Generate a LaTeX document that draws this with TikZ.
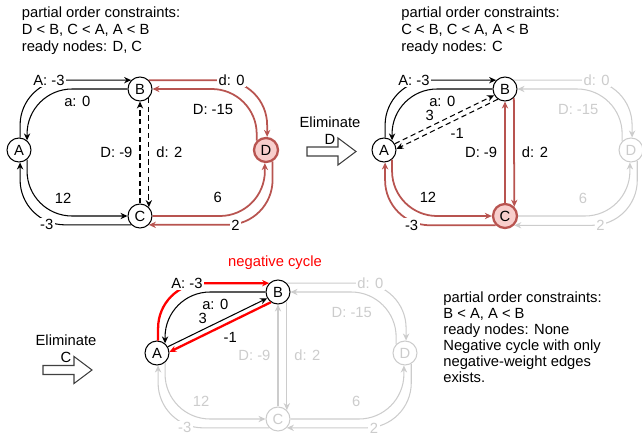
\documentclass[tikz,border=0pt]{standalone}
\usepackage{fontspec}
\setmainfont{Liberation Sans}
\usetikzlibrary{arrows.meta}
\definecolor{elimRed}{HTML}{B85450}
\definecolor{elimFill}{HTML}{F8CECC}
\definecolor{fadeGray}{HTML}{CCCCCC}
\definecolor{arrowGray}{HTML}{404040}
\tikzset{
  vert/.style={circle, draw=black, fill=white, minimum size=0.48cm, inner sep=0pt, line width=.6pt},
  elimvert/.style={vert, draw=elimRed, fill=elimFill, line width=1.3pt},
  fadevert/.style={vert, draw=fadeGray, text=fadeGray},
  link/.style={-{Stealth[length=4pt,width=3.6pt]}, line width=.6pt, rounded corners=0.9cm},
  redlink/.style={link, draw=elimRed, line width=1pt},
  fadelink/.style={link, color=fadeGray},
  neglink/.style={link, draw=red, line width=1.3pt},
  dashlink/.style={link, densely dashed},
  inlbl/.style={inner sep=1pt, sharp corners},
  lbl/.style={inlbl, fill=white},
  info/.style={align=left, inner sep=0pt, anchor=north west},
  bigarrow/.style={draw=arrowGray, fill=white, line width=.6pt}
}
\begin{document}
\begin{tikzpicture}[x=0.02cm, y=-0.02cm, font=\fontsize{8.4}{9.6}\selectfont]
  \useasboundingbox (0,0) rectangle (642,436);

  % texts
  \node[info] (info1) at (21.5,6.5) {partial order constraints:\\D < B, C < A, A < B\\ready nodes: D, C};
  \node[info] (info2) at (401,6.5) {partial order constraints:\\C < B, C < A, A < B\\ready nodes: C};
  \node[info, font=\fontsize{8.4}{9.1}\selectfont] (info3) at (443,291.2) {partial order constraints:\\B < A, A < B\\ready nodes: None\\Negative cycle with only\\negative-weight edges\\exists.};
  \node[text=red] (negcyc) at (275,263) {negative cycle};

  % eliminate arrows
  \node[align=center] (elimD) at (330,131) {Eliminate\\D};
  \node[align=center] (elimC) at (66,349) {Eliminate\\C};
  \foreach \ax/\ay in {307/151.5, 43/370}
    \draw[bigarrow] (\ax,\ay-4.5) -- (\ax+31,\ay-4.5) -- (\ax+31,\ay-13.5) -- (\ax+49,\ay)
      -- (\ax+31,\ay+13.5) -- (\ax+31,\ay+4.5) -- (\ax,\ay+4.5) -- cycle;

  % graph 1
  \node[vert] (A1) at (19,150) {A};
  \node[vert] (B1) at (140,89) {B};
  \node[vert] (C1) at (140,216) {C};
  \node[elimvert] (D1) at (266,150) {D};
  \draw[link] (A1.85) |- (B1.135) node[lbl, pos=.63] {A: -3};
  \draw[link] (B1.west) -| (A1.50) node[inlbl, pos=.25, below=3pt] {a: 0};
  \draw[link] (A1.-50) |- (C1.west) node[inlbl, pos=.68, above=6pt] {12};
  \draw[link] (C1.-135) -| (A1.-85) node[lbl, pos=.38] {-3};
  \draw[dashlink] (C1.north) -- (B1.south) node[inlbl, pos=.5, left=3pt] {D: -9};
  \draw[dashlink] (B1.-45) -- (C1.45) node[inlbl, pos=.5, right=3pt] {d: 2};
  \draw[redlink] (B1.45) -| (D1.85) node[lbl, pos=.35] {d: 0};
  \draw[redlink] (D1.135) |- (B1.east) node[inlbl, pos=.71, below=7.5pt] {D: -15};
  \draw[redlink] (C1.east) -| (D1.-95) node[inlbl, pos=.29, above=6pt] {6};
  \draw[redlink] (D1.-60) |- (C1.-45) node[lbl, pos=.65] {2};

  % graph 2
  \node[vert] (A2) at (384,150) {A};
  \node[vert] (B2) at (505,89) {B};
  \node[elimvert] (C2) at (505,216) {C};
  \node[fadevert] (D2) at (631,150) {D};
  \draw[link] (A2.85) |- (B2.135) node[lbl, pos=.63] {A: -3};
  \draw[link] (B2.west) -| (A2.50) node[inlbl, pos=.25, below=3pt] {a: 0};
  \draw[dashlink] (A2.30) -- (B2.-150) node[inlbl, pos=.35, above=2pt] {3};
  \draw[dashlink] (B2.-125) -- (A2.5) node[inlbl, pos=.4, below=4pt] {-1};
  \draw[redlink] (A2.-50) |- (C2.west) node[inlbl, pos=.68, above=6pt] {12};
  \draw[redlink] (C2.-135) -| (A2.-85) node[lbl, pos=.38] {-3};
  \draw[redlink] (C2.north) -- (B2.south) node[inlbl, pos=.5, left=3pt] {D: -9};
  \draw[redlink] (B2.-45) -- (C2.45) node[inlbl, pos=.5, right=3pt] {d: 2};
  \draw[fadelink] (B2.45) -| (D2.85) node[lbl, pos=.35] {d: 0};
  \draw[fadelink] (D2.135) |- (B2.east) node[inlbl, pos=.71, below=7.5pt] {D: -15};
  \draw[fadelink] (C2.east) -| (D2.-95) node[inlbl, pos=.29, above=6pt] {6};
  \draw[fadelink] (D2.-60) |- (C2.-45) node[lbl, pos=.65] {2};

  % graph 3
  \node[vert] (A3) at (157,353) {A};
  \node[vert] (B3) at (278,292) {B};
  \node[fadevert] (C3) at (278,419) {C};
  \node[fadevert] (D3) at (405,353) {D};
  \draw[neglink] (A3.85) |- (B3.135) node[lbl, pos=.63] {A: -3};
  \draw[link] (B3.west) -| (A3.50) node[inlbl, pos=.25, below=3pt] {a: 0};
  \draw[link] (A3.30) -- (B3.-150) node[inlbl, pos=.35, above=2pt] {3};
  \draw[neglink] (B3.-125) -- (A3.5) node[inlbl, pos=.4, below=4pt] {-1};
  \draw[fadelink] (A3.-50) |- (C3.west) node[inlbl, pos=.68, above=6pt] {12};
  \draw[fadelink] (C3.-135) -| (A3.-85) node[lbl, pos=.38] {-3};
  \draw[fadelink] (C3.north) -- (B3.south) node[inlbl, pos=.5, left=3pt] {D: -9};
  \draw[fadelink] (B3.-45) -- (C3.45) node[inlbl, pos=.5, right=3pt] {d: 2};
  \draw[fadelink] (B3.45) -| (D3.85) node[lbl, pos=.35] {d: 0};
  \draw[fadelink] (D3.135) |- (B3.east) node[inlbl, pos=.71, below=7.5pt] {D: -15};
  \draw[fadelink] (C3.east) -| (D3.-95) node[inlbl, pos=.29, above=6pt] {6};
  \draw[fadelink] (D3.-60) |- (C3.-45) node[lbl, pos=.65] {2};
\end{tikzpicture}
\end{document}
